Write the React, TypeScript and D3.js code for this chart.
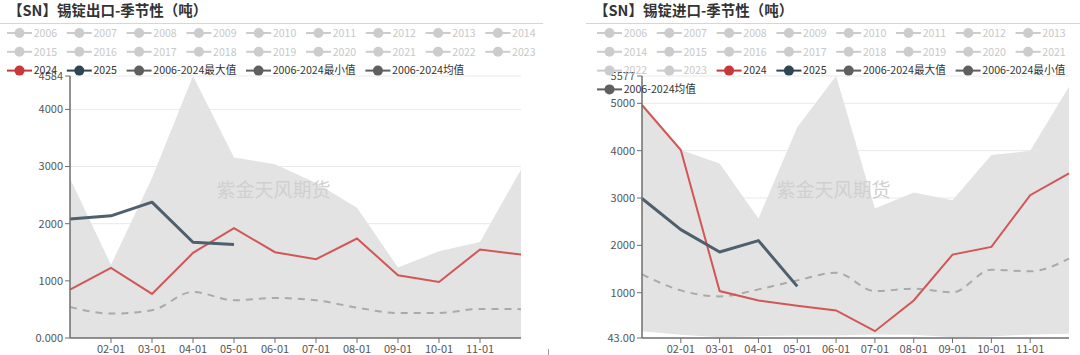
import React from 'react';
import * as d3 from 'd3';

const months = ['01-01', '02-01', '03-01', '04-01', '05-01', '06-01', '07-01', '08-01', '09-01', '10-01', '11-01', '12-01'];
const shownMonthLabels = ['02-01', '03-01', '04-01', '05-01', '06-01', '07-01', '08-01', '09-01', '10-01', '11-01'];
const years = ['2006', '2007', '2008', '2009', '2010', '2011', '2012', '2013', '2014', '2015', '2016', '2017', '2018', '2019', '2020', '2021', '2022', '2023'];
const statNames = ['2006-2024最大值', '2006-2024最小值', '2006-2024均值'];

// 锡锭出口
const exportMax = [2790, 1280, 2800, 4584, 3160, 3040, 2710, 2280, 1233, 1518, 1681, 2949];
const exportMin = [0, 0, 0, 0, 0, 0, 0, 0, 0, 0, 0, 0];
const export2024 = [847, 1226, 771, 1489, 1921, 1501, 1378, 1741, 1098, 981, 1548, 1461];
const export2025 = [2084, 2137, 2377, 1676, 1636];
const exportAvg = [543, 427, 485, 806, 660, 700, 660, 532, 438, 438, 508, 505];
const exportTicks = [0, 1000, 2000, 3000, 4000, 4584];
const exportTickLabels = ['0.000', '1000', '2000', '3000', '4000', '4584'];

// 锡锭进口
const importMax = [4964, 4012, 3730, 2566, 4492, 5577, 2778, 3116, 2953, 3906, 3997, 5351];
const importMin = [187, 111, 60, 82, 96, 96, 118, 111, 60, 75, 118, 132];
const import2024 = [4964, 4012, 1034, 837, 725, 625, 187, 837, 1804, 1966, 3059, 3518];
const import2025 = [2989, 2333, 1860, 2100, 1133];
const importAvg = [1387, 1049, 922, 1070, 1260, 1423, 1034, 1085, 1006, 1487, 1451, 1720];
const importTicks = [43, 1000, 2000, 3000, 4000, 5000, 5577];
const importTickLabels = ['43.00', '1000', '2000', '3000', '4000', '5000', '5577'];

const FONT = '"Noto Sans CJK SC", "Noto Sans", sans-serif';
const RED = '#d25656';
const NAVY = '#4f5f6d';

// width estimate matching the reference legend metrics (11px text)
function textWidth(text: string): number {
  let w = 0;
  for (const ch of text) {
    if (/[0-9]/.test(ch)) w += 5.85;
    else if (ch === '-') w += 3.5;
    else if (ch.charCodeAt(0) > 255) w += 10.9;
    else w += 6;
  }
  return w;
}

type Panel = {
  title: string;
  left: number;
  right: number;
  sepLeft: number;
  sepRight: number;
  legendLeft: number;
  legendRight: number;
  max: number[];
  min: number[];
  s2024: number[];
  s2025: number[];
  avg: number[];
  domain: [number, number];
  ticks: number[];
  tickLabels: string[];
};

const panels: Panel[] = [
  {
    title: '【SN】锡锭出口-季节性（吨）',
    left: 70, right: 521, sepLeft: 0, sepRight: 543, legendLeft: 7, legendRight: 540,
    max: exportMax, min: exportMin, s2024: export2024, s2025: export2025, avg: exportAvg,
    domain: [0, 4584], ticks: exportTicks, tickLabels: exportTickLabels,
  },
  {
    title: '【SN】锡锭进口-季节性（吨）',
    left: 642, right: 1069, sepLeft: 586, sepRight: 1080, legendLeft: 597, legendRight: 1076,
    max: importMax, min: importMin, s2024: import2024, s2025: import2025, avg: importAvg,
    domain: [43, 5577], ticks: importTicks, tickLabels: importTickLabels,
  },
];

const TOP = 76;
const BOTTOM = 338;

function Legend({ p }: { p: Panel }) {
  const items = [
    ...years.map((y) => ({ name: y, icon: '#cccccc', text: '#c8c8c8' })),
    { name: '2024', icon: '#c8373a', text: '#333' },
    { name: '2025', icon: '#2f4554', text: '#333' },
    ...statNames.map((n) => ({ name: n, icon: '#5f5f5f', text: '#333' })),
  ];
  const out: React.ReactNode[] = [];
  let x = p.legendLeft;
  let row = 0;
  items.forEach((it, i) => {
    const w = 26.7 + textWidth(it.name);
    if (x + w > p.legendRight && x > p.legendLeft) {
      x = p.legendLeft;
      row += 1;
    }
    const y = 33 + row * 18.8;
    out.push(
      <g key={i}>
        <line x1={x} x2={x + 25} y1={y} y2={y} stroke={it.icon} strokeWidth={2} />
        <circle cx={x + 12.5} cy={y} r={5} fill={it.icon} />
        <text x={x + 26.7} y={y} dy="0.35em" fontSize={11} fill={it.text} fontFamily={FONT}
          textLength={textWidth(it.name)} lengthAdjust="spacingAndGlyphs">{it.name}</text>
      </g>
    );
    x += w + 9.7;
  });
  return <g>{out}</g>;
}

function PanelChart({ p }: { p: Panel }) {
  const x = d3.scaleLinear().domain([0, months.length - 1]).range([p.left, p.right]);
  const y = d3.scaleLinear().domain(p.domain).range([BOTTOM, TOP]);
  const area = d3.area<number>()
    .x((_, i) => x(i))
    .y0((_, i) => y(p.min[i]))
    .y1((d) => y(d));
  const line = d3.line<number>().x((_, i) => x(i)).y((d) => y(d));
  const smooth = d3.line<number>().x((_, i) => x(i)).y((d) => y(d)).curve(d3.curveMonotoneX);
  const cx = (p.left + p.right) / 2;
  return (
    <g>
      <text x={p.sepLeft + 8} y={11} dy="0.35em" fontSize={14.5} fontWeight="bold" fill="#333" fontFamily={FONT}>{p.title}</text>
      <line x1={p.sepLeft} x2={p.sepRight} y1={23.5} y2={23.5} stroke="#d6d6d6" strokeWidth={1} />
      {p.ticks.slice(1).map((t) => (
        <line key={t} x1={p.left} x2={p.right} y1={y(t)} y2={y(t)} stroke="#e9e9e9" strokeWidth={1} />
      ))}
      <path d={area(p.max) || ''} fill="#e3e3e3" />
      <text x={cx - 22} y={190} textAnchor="middle" dy="0.35em" fontSize={19} fill="#d0d0d0" fontFamily={FONT}>紫金天风期货</text>
      <path d={smooth(p.avg) || ''} fill="none" stroke="#aaaaaa" strokeWidth={2} strokeDasharray="7,6" />
      <path d={line(p.s2024) || ''} fill="none" stroke={RED} strokeWidth={2} />
      <path d={line(p.s2025) || ''} fill="none" stroke={NAVY} strokeWidth={3} strokeLinejoin="round" />
      <line x1={p.left} x2={p.left} y1={TOP} y2={BOTTOM} stroke="#6e6e6e" strokeWidth={1.5} />
      <line x1={p.left} x2={p.right} y1={BOTTOM} y2={BOTTOM} stroke="#6e6e6e" strokeWidth={1.5} />
      {p.ticks.map((t, i) => (
        <g key={t}>
          <line x1={p.left - 5} x2={p.left} y1={y(t)} y2={y(t)} stroke="#6e6e6e" />
          <text x={p.left - 7} y={y(t)} dy="0.35em" textAnchor="end" fontSize={11} fill="#555" fontFamily={FONT}>{p.tickLabels[i]}</text>
        </g>
      ))}
      {months.map((m, i) => (
        shownMonthLabels.includes(m) ? (
          <g key={m}>
            <line x1={x(i)} x2={x(i)} y1={BOTTOM} y2={BOTTOM + 5} stroke="#6e6e6e" />
            <text x={x(i)} y={349} dy="0.35em" textAnchor="middle" fontSize={11} fill="#555" fontFamily={FONT}>{m}</text>
          </g>
        ) : null
      ))}
      <Legend p={p} />
    </g>
  );
}

export default function App() {
  return (
    <svg width={1080} height={355} style={{ position: 'absolute', left: 0, top: 0, background: '#fff' }}>
      <rect x={0} y={0} width={1080} height={355} fill="#fff" />
      {panels.map((p, i) => <PanelChart key={i} p={p} />)}
      <line x1={548.5} x2={548.5} y1={349} y2={355} stroke="#999" />
    </svg>
  );
}
